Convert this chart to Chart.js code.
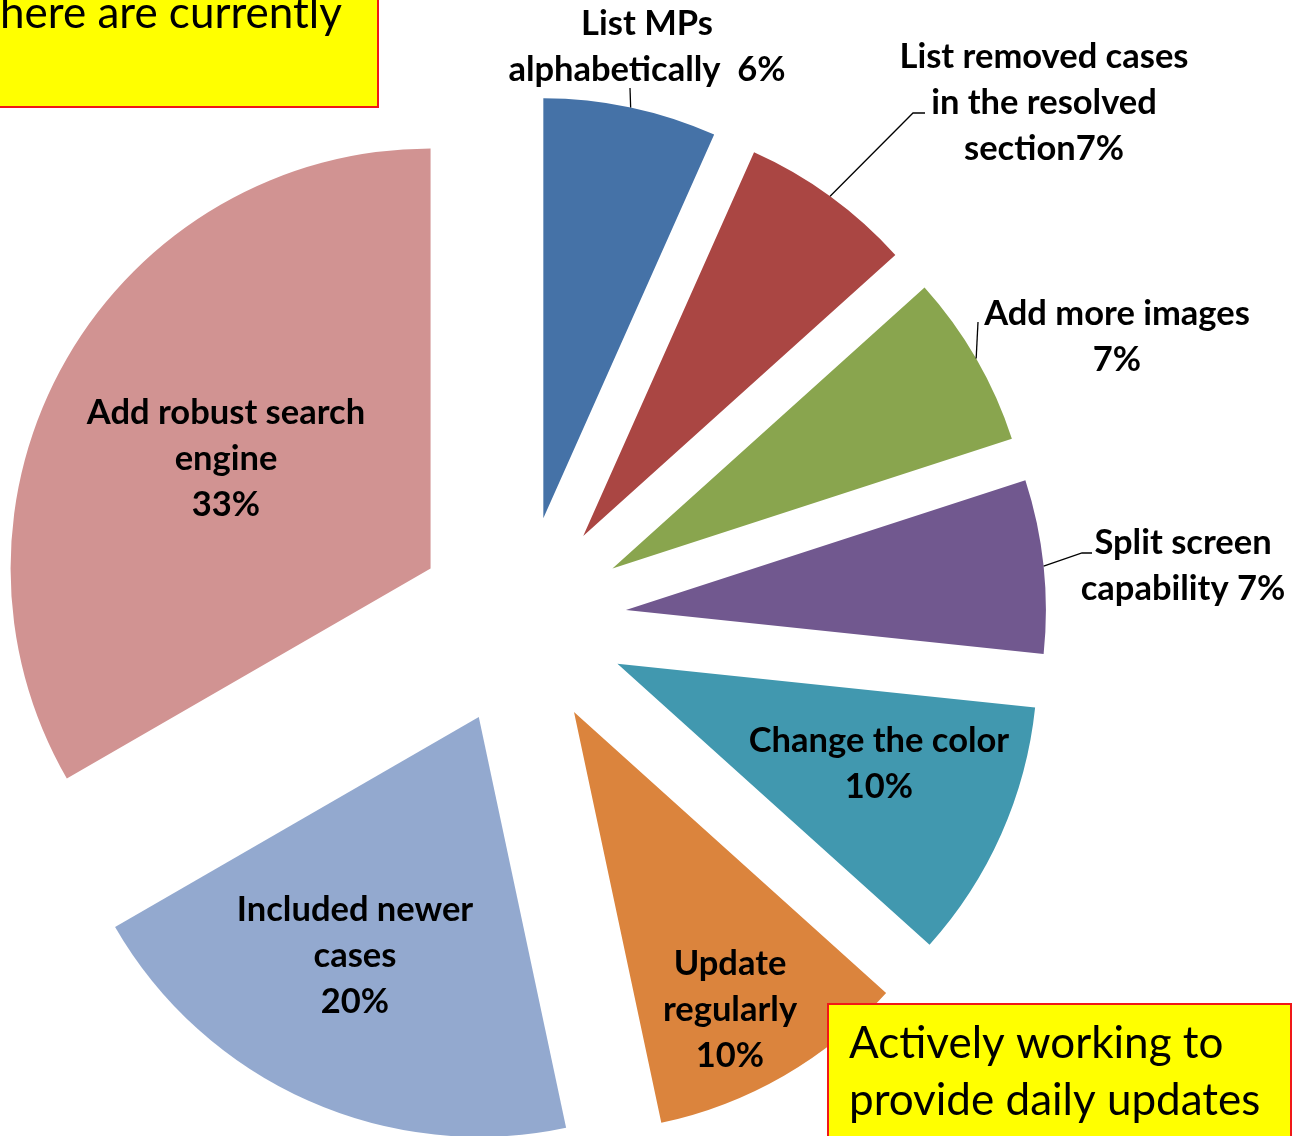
<!DOCTYPE html>
<html>
<head>
<meta charset="utf-8">
<script src="https://cdn.jsdelivr.net/npm/chart.js@4.4.0/dist/chart.umd.min.js"></script>
<style>
html,body{margin:0;padding:0;background:#ffffff;overflow:hidden}
#wrap{position:relative;width:1293px;height:1136px}
</style>
</head>
<body>
<div id="wrap"><canvas id="c" width="1293" height="1136"></canvas></div>
<script>
// ---- data ----
const categories = [
  'List MPs alphabetically',
  'List removed cases in the resolved section',
  'Add more images',
  'Split screen capability',
  'Change the color',
  'Update regularly',
  'Included newer cases',
  'Add robust search engine'
];
const responses = [2, 2, 2, 2, 3, 3, 6, 10];
const percentLabels = ['6%', '7%', '7%', '7%', '10%', '10%', '20%', '33%'];
const labelLines = [
  ['List MPs', 'alphabetically  6%'],
  ['List removed cases', 'in the resolved', 'section7%'],
  ['Add more images', '7%'],
  ['Split screen', 'capability 7%'],
  ['Change the color', '10%'],
  ['Update', 'regularly', '10%'],
  ['Included newer', 'cases', '20%'],
  ['Add robust search', 'engine', '33%']
];
const noteTopLeft = ['here are currently'];
const noteBottomRight = ['Actively working to', 'provide daily updates'];

// ---- styles / layout ----
const sliceColors = ['#4572A7', '#AA4643', '#89A54E', '#71588F', '#4198AF', '#DB843D', '#93A9CF', '#D19392'];
const EXPLODE = 105;
const RADIUS = 420;
const LINE_H = 46;
const LABEL_FONT = 'bold 34.5px Lato, "Open Sans", sans-serif';
const labelPos = [
  [647, 24], [1044, 57], [1117, 314], [1183, 543],
  [879, 741], [730, 964], [355, 910], [226, 413]
];
const leaders = [
  [[630, 88]],
  [[913, 113], [925, 113]],
  [[978, 322]],
  [[1082, 553], [1092, 553]],
  null, null, null, null
];

const explodePlugin = {
  id: 'explode',
  afterDatasetUpdate(chart, args) {
    const meta = chart.getDatasetMeta(args.index);
    meta.data.forEach(arc => {
      const mid = (arc.startAngle + arc.endAngle) / 2;
      arc.x += Math.cos(mid) * EXPLODE;
      arc.y += Math.sin(mid) * EXPLODE;
    });
  }
};

function drawNote(ctx, x1, y1, x2, y2, lines, tx, ty, lh) {
  ctx.save();
  ctx.fillStyle = '#FFFF00';
  ctx.fillRect(x1, y1, x2 - x1, y2 - y1);
  ctx.strokeStyle = '#F01818';
  ctx.lineWidth = 2;
  ctx.strokeRect(x1, y1, x2 - x1, y2 - y1);
  ctx.fillStyle = '#000000';
  ctx.font = '44px Lato, "Open Sans", sans-serif';
  ctx.textAlign = 'left';
  ctx.textBaseline = 'alphabetic';
  lines.forEach((t, k) => ctx.fillText(t, tx, ty + k * lh));
  ctx.restore();
}

const labelPlugin = {
  id: 'labels',
  afterDraw(chart) {
    const ctx = chart.ctx;
    const meta = chart.getDatasetMeta(0);
    ctx.save();
    meta.data.forEach((arc, i) => {
      const lead = leaders[i];
      if (lead) {
        const mid = (arc.startAngle + arc.endAngle) / 2;
        const sx = arc.x + Math.cos(mid) * arc.outerRadius;
        const sy = arc.y + Math.sin(mid) * arc.outerRadius;
        ctx.beginPath();
        ctx.moveTo(sx, sy);
        lead.forEach(p => ctx.lineTo(p[0], p[1]));
        ctx.strokeStyle = '#000000';
        ctx.lineWidth = 1.3;
        ctx.stroke();
      }
      ctx.font = LABEL_FONT;
      ctx.fillStyle = '#000000';
      ctx.textAlign = 'center';
      ctx.textBaseline = 'middle';
      const [cx, cy] = labelPos[i];
      labelLines[i].forEach((t, k) => ctx.fillText(t, cx, cy + k * LINE_H));
    });
    ctx.restore();
    drawNote(ctx, -10, -10, 378, 107, noteTopLeft, 0, 28, 57);
    drawNote(ctx, 828, 1004, 1291, 1146, noteBottomRight, 849, 1058, 57);
  }
};

new Chart(document.getElementById('c'), {
  type: 'pie',
  data: {
    labels: categories,
    datasets: [{
      data: responses,
      backgroundColor: sliceColors,
      borderWidth: 0
    }]
  },
  options: {
    responsive: false,
    animation: false,
    events: [],
    radius: RADIUS,
    layout: { padding: { left: 0, right: 250, top: 106, bottom: 0 } },
    plugins: {
      legend: { display: false },
      tooltip: { enabled: false }
    }
  },
  plugins: [explodePlugin, labelPlugin]
});
</script>
</body>
</html>
